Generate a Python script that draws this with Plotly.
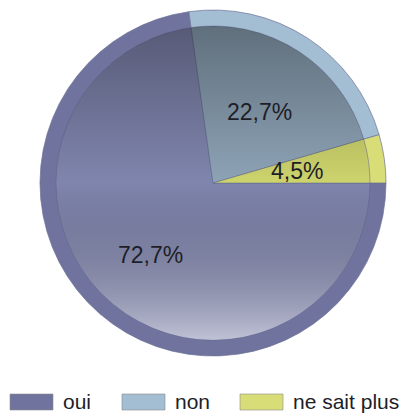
import base64
import math
import plotly.graph_objects as go

labels = ["oui", "non", "ne sait plus"]
values = [72.7, 22.7, 4.5]
text_labels = ["72,7%", "22,7%", "4,5%"]

outer_colors = ["#6F739D", "#A3BDD3", "#D8DD78"]
inner_colors = ["#8085AE", "#8DA3B6", "#CDD36C"]

W, H = 412, 414
# pie geometry in paper pixels (from top-left)
CX, CY, R_OUT, R_IN = 205, 175, 173, 157


def dom(r):
    return dict(x=[(CX - r) / W, (CX + r) / W], y=[1 - (CY + r) / H, 1 - (CY - r) / H])


fig = go.Figure()
fig.add_trace(go.Pie(
    labels=labels, values=values, sort=False, direction="clockwise", rotation=90,
    marker=dict(colors=outer_colors, line=dict(color="#6C7196", width=0.7)),
    textinfo="none", hoverinfo="skip", domain=dom(R_OUT), showlegend=False,
))
fig.add_trace(go.Pie(
    labels=labels, values=values, sort=False, direction="clockwise", rotation=90,
    marker=dict(colors=inner_colors, line=dict(color="#5F6488", width=0.5)),
    textinfo="none", hoverinfo="skip", domain=dom(R_IN), showlegend=False,
))

# vertical shading overlay on inner disc
svg = (
    '<svg xmlns="http://www.w3.org/2000/svg" width="200" height="200" viewBox="0 0 200 200">'
    '<defs><linearGradient id="g" x1="0" y1="0" x2="0" y2="1">'
    '<stop offset="0" stop-color="#000" stop-opacity="0.32"/>'
    '<stop offset="0.5" stop-color="#000" stop-opacity="0"/>'
    '<stop offset="1" stop-color="#fff" stop-opacity="0.5"/>'
    '</linearGradient></defs>'
    '<circle cx="100" cy="100" r="100" fill="url(#g)"/></svg>'
)
src = "data:image/svg+xml;base64," + base64.b64encode(svg.encode()).decode()
fig.add_layout_image(dict(
    source=src, xref="paper", yref="paper",
    x=(CX - R_IN) / W, y=1 - (CY - R_IN) / H,
    sizex=2 * R_IN / W, sizey=2 * R_IN / H,
    xanchor="left", yanchor="top", sizing="stretch", layer="above",
))

# value labels placed at slice mid-angles (computed from the values)
total = sum(values)
radial = [0.55, 0.49, 0.49]
start = 0.0
for v, t, rf in zip(values, text_labels, radial):
    frac = v / total
    mid = -(start + frac / 2) * 2 * math.pi  # clockwise from 3 o'clock
    start += frac
    px = CX + rf * R_OUT * math.cos(mid)
    py = CY - rf * R_OUT * math.sin(mid)
    fig.add_annotation(x=px / W, y=1 - py / H, xref="paper", yref="paper", text=t,
                       showarrow=False, xanchor="center", yanchor="middle",
                       font=dict(family="Liberation Sans, Arial", size=23, color="#1e1e28"))

# legend at the bottom
leg_x = [2, 114, 232]
for lab, col, lx in zip(labels, outer_colors, leg_x):
    fig.add_shape(type="rect", xref="paper", yref="paper",
                  x0=lx / W, x1=(lx + 43) / W, y0=1 - 402 / H, y1=1 - 386 / H,
                  fillcolor=col, line=dict(color="#8a8a8a", width=0.6))
    fig.add_annotation(x=(lx + 51) / W, y=1 - 393 / H, xref="paper", yref="paper",
                       text=lab, showarrow=False, xanchor="left", yanchor="middle",
                       font=dict(family="Liberation Sans, Arial", size=21, color="#1e1e28"))

fig.update_layout(
    width=W, height=H,
    margin=dict(l=0, r=0, t=0, b=0),
    paper_bgcolor="white",
    showlegend=False,
)

fig.write_html("out.html")
